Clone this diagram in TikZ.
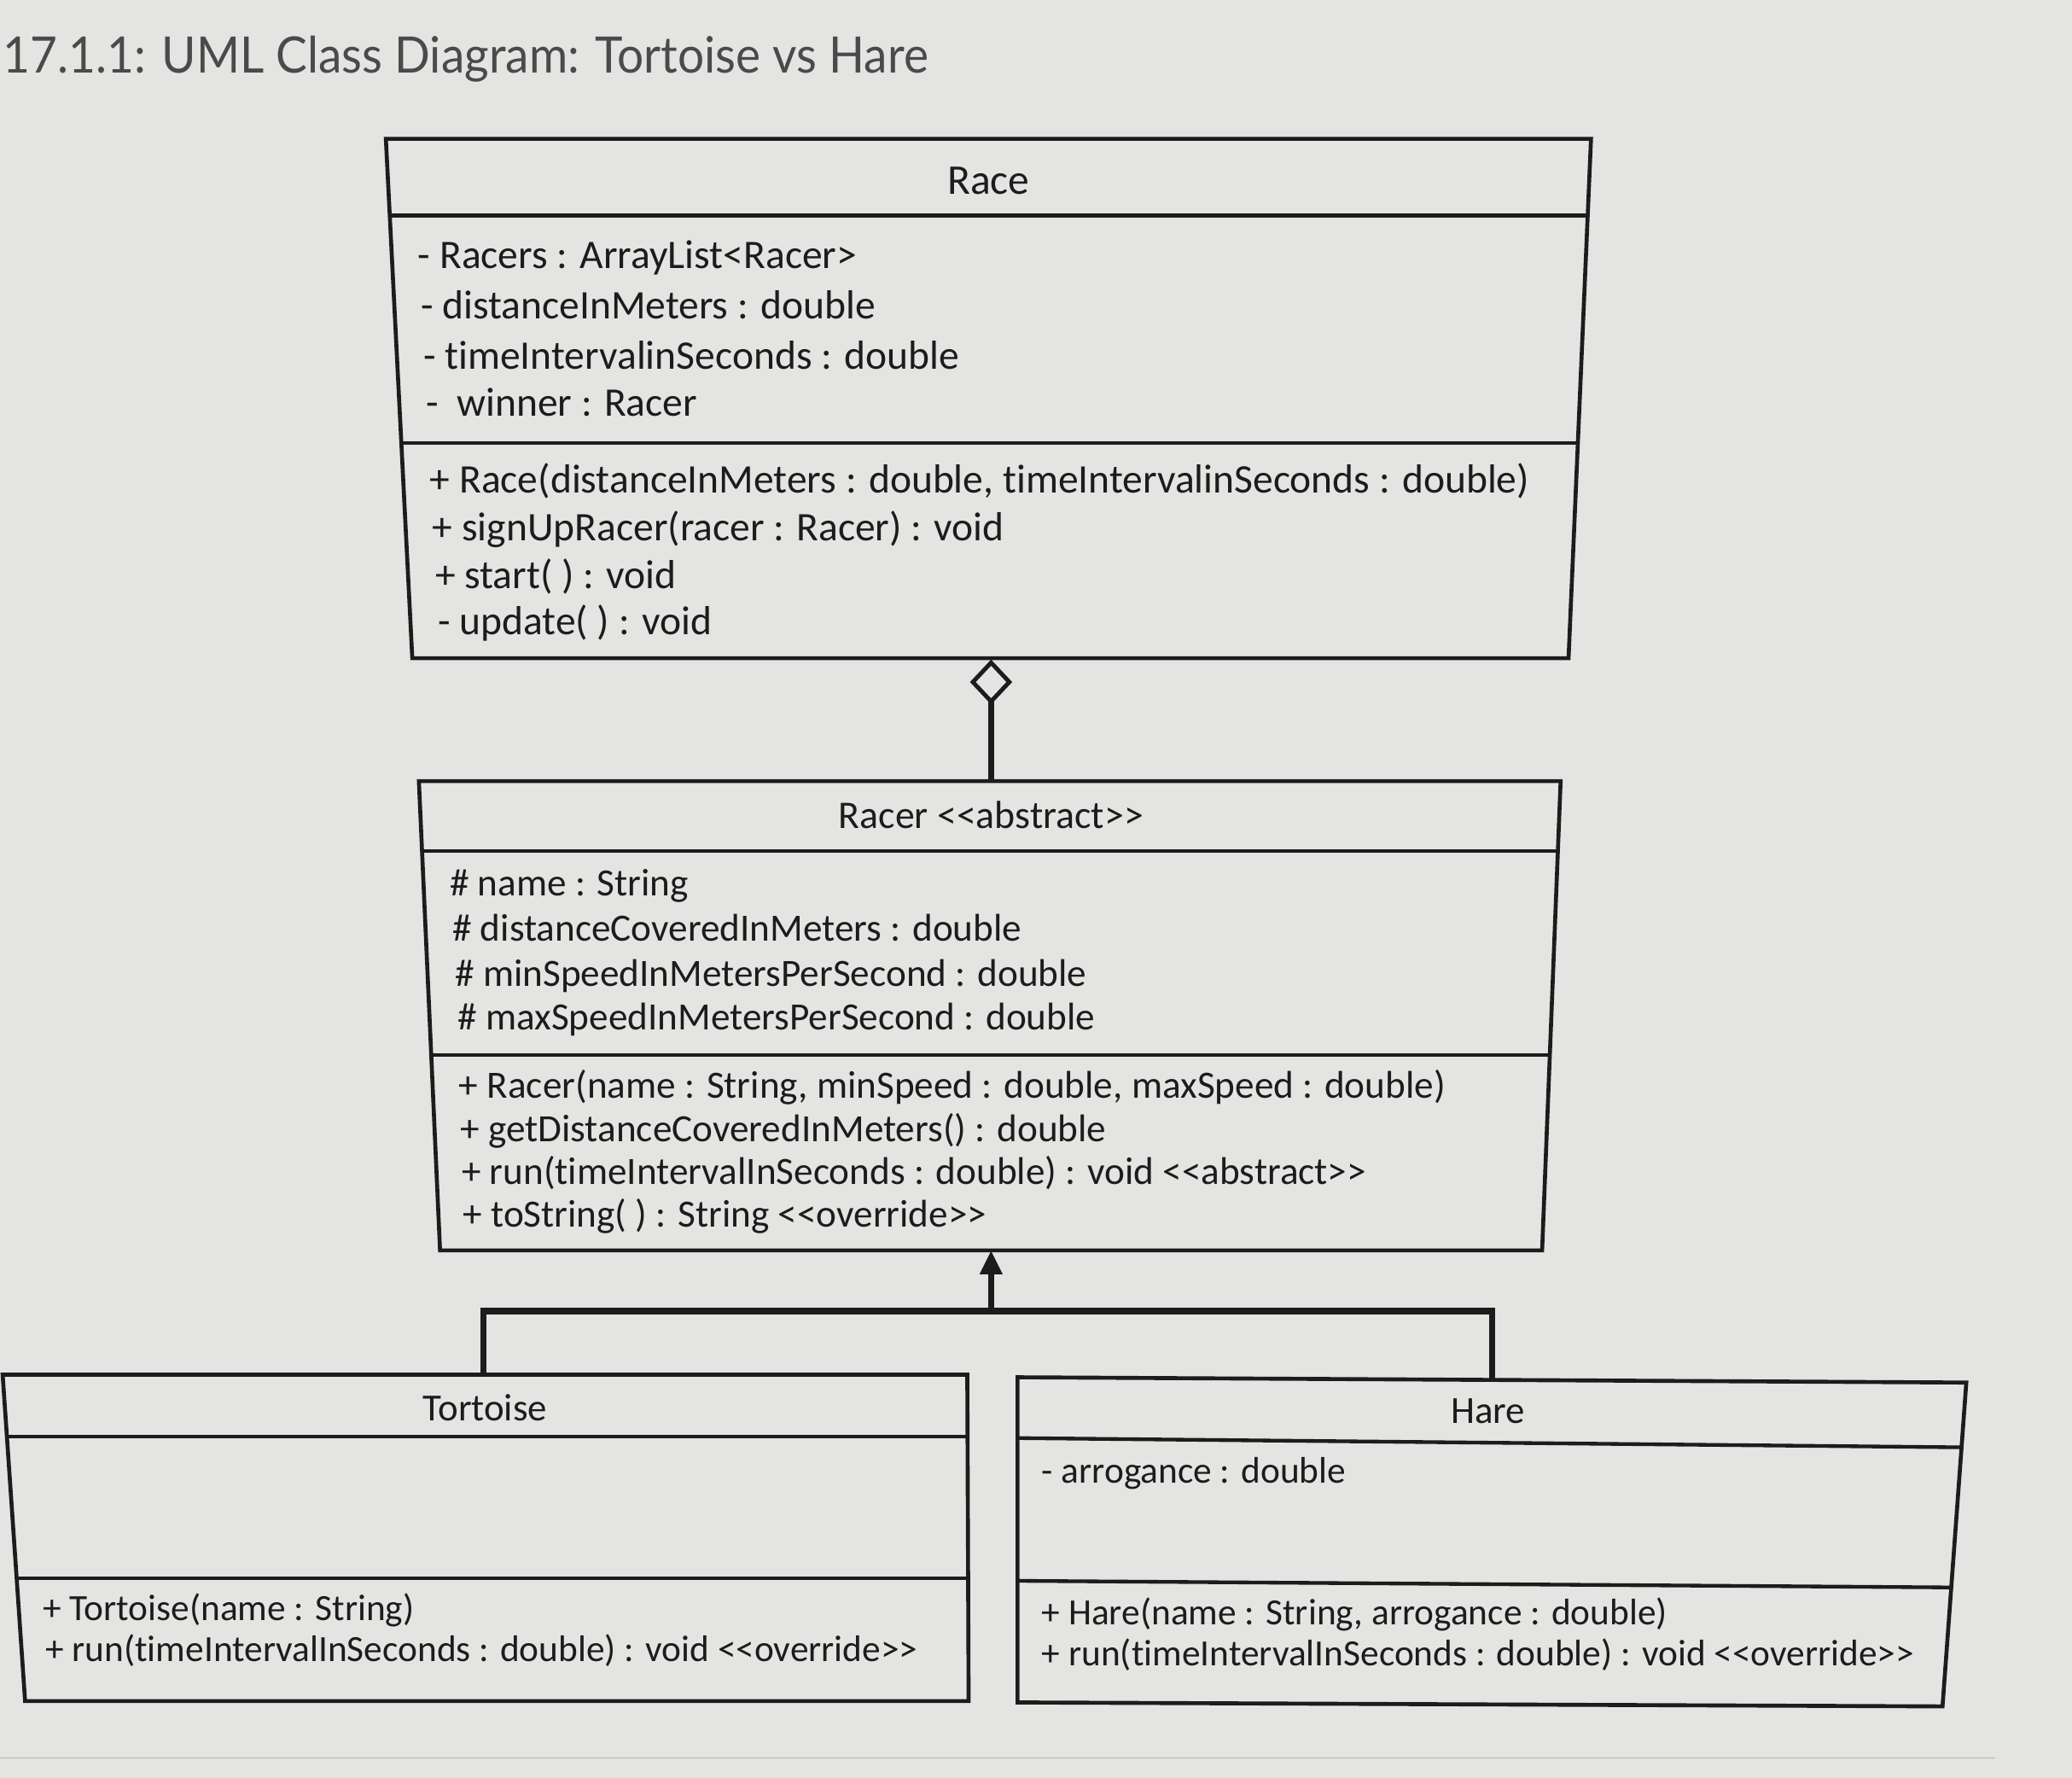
\documentclass[tikz,border=0pt]{standalone}
\usepackage{fontspec}
\setmainfont[Ligatures=CommonOff]{Carlito}
\newfontfamily\titlefont[FakeStretch=0.935]{Lato}
\usetikzlibrary{arrows.meta}
\definecolor{bg}{HTML}{E4E4E2}
\definecolor{ink}{HTML}{1C1C1C}
\definecolor{titlegray}{HTML}{4A4A4A}
\tikzset{
  box/.style={draw=ink, line width=1.5pt, line join=miter},
  sep/.style={draw=ink, line width=1.4pt},
  txt/.style={anchor=base west, inner sep=0pt, text=ink},
  ttl/.style={anchor=base, inner sep=0pt, text=ink},
  big/.style={font=\fontsize{15.35}{18}\selectfont},
  bigt/.style={font=\fontsize{16}{19}\selectfont},
  mid/.style={font=\fontsize{14.6}{17}\selectfont},
  midt/.style={font=\fontsize{14.8}{17}\selectfont},
  sml/.style={font=\fontsize{14}{16}\selectfont},
  smlt/.style={font=\fontsize{14.5}{17}\selectfont},
  conn/.style={draw=ink, line width=2.4pt},
}
\begin{document}
\begin{tikzpicture}[x=0.5pt,y=-0.5pt]
\fill[bg] (0,0) rectangle (1568,1345);
\useasboundingbox (0,0) rectangle (1568,1345);
\draw[gray!60, line width=0.6pt] (0,1330) -- (1510,1330);

% title
\node[anchor=base west, inner sep=0pt, text=titlegray, font=\titlefont\fontsize{19}{22}\selectfont] (title) at (2,55) {17.1.1: UML Class Diagram: Tortoise vs Hare};

% ---------- Race ----------
\coordinate (raceTL) at (292,105);
\coordinate (raceTR) at (1204,105);
\coordinate (raceBR) at (1187,498);
\coordinate (raceBL) at (312,498);
\draw[box] (raceTL) -- (raceTR) -- (raceBR) -- (raceBL) -- cycle;
\draw[sep] (295,163) -- (1201.5,163);
\draw[sep] (303.7,335) -- (1194,335);
\node[ttl,bigt] (raceName) at (748,147) {Race};
\node[txt,big] (ra1) at (316,203) {- Racers : ArrayList<Racer>};
\node[txt,big] (ra2) at (318,241) {- distanceInMeters : double};
\node[txt,big] (ra3) at (320,279) {- timeIntervalinSeconds : double};
\node[txt,big] (ra4) at (322,315) {-\ \ winner : Racer};
\node[txt,big] (rm1) at (325,373) {+ Race(distanceInMeters : double, timeIntervalinSeconds : double)};
\node[txt,big] (rm2) at (327,409) {+ signUpRacer(racer : Racer) : void};
\node[txt,big] (rm3) at (329,445) {+ start( ) : void};
\node[txt,big] (rm4) at (331,480) {- update( ) : void};
\coordinate (raceBot) at (750,499);

% ---------- Racer ----------
\coordinate (rcTL) at (317,591);
\coordinate (rcTR) at (1181,591);
\coordinate (rcBR) at (1167,946);
\coordinate (rcBL) at (333,946);
\draw[box] (rcTL) -- (rcTR) -- (rcBR) -- (rcBL) -- cycle;
\draw[sep] (319.4,644) -- (1178.9,644);
\draw[sep] (326.3,798) -- (1172.8,798);
\node[ttl,midt] (racerName) at (750,627) {Racer <{}<abstract>{}>};
\node[txt,mid] (ca1) at (340,678) {\# name : String};
\node[txt,mid] (ca2) at (342,712) {\# distanceCoveredInMeters : double};
\node[txt,mid] (ca3) at (344,746) {\# minSpeedInMetersPerSecond : double};
\node[txt,mid] (ca4) at (346,779) {\# maxSpeedInMetersPerSecond : double};
\node[txt,mid] (cm1) at (347,831) {+ Racer(name : String, minSpeed : double, maxSpeed : double)};
\node[txt,mid] (cm2) at (348,864) {+ getDistanceCoveredInMeters() : double};
\node[txt,mid] (cm3) at (349,896) {+ run(timeIntervalInSeconds : double) : void <{}<abstract>{}>};
\node[txt,mid] (cm4) at (350,928) {+ toString( ) : String <{}<override>{}>};
\coordinate (racerTop) at (750,592);
\coordinate (racerBot) at (750,946);

% ---------- Tortoise ----------
\coordinate (tTL) at (2,1040);
\coordinate (tTR) at (732,1040);
\coordinate (tBR) at (733,1287);
\coordinate (tBL) at (19,1287);
\draw[box] (tTL) -- (tTR) -- (tBR) -- (tBL) -- cycle;
\draw[sep] (5.2,1087) -- (732,1087);
\draw[sep] (12.6,1194) -- (732.5,1194);
\node[ttl,smlt] (tortName) at (367,1075) {Tortoise};
\node[txt,sml] (tm1) at (32,1226) {+ Tortoise(name : String)};
\node[txt,sml] (tm2) at (34,1257) {+ run(timeIntervalInSeconds : double) : void <{}<override>{}>};
\coordinate (tortTop) at (366,1040);

% ---------- Hare ----------
\coordinate (hTL) at (770,1042);
\coordinate (hTR) at (1488,1046);
\coordinate (hBR) at (1470,1291);
\coordinate (hBL) at (770,1288);
\draw[box] (hTL) -- (hTR) -- (hBR) -- (hBL) -- cycle;
\draw[sep] (770,1088) -- (1484.4,1095);
\draw[sep] (770,1196) -- (1476.6,1201);
\node[ttl,smlt] (hareName) at (1126,1077) {Hare};
\node[txt,sml] (ha1) at (788,1122) {- arrogance : double};
\node[txt,sml] (hm1) at (788,1229) {+ Hare(name : String, arrogance : double)};
\node[txt,sml] (hm2) at (788,1260) {+ run(timeIntervalInSeconds : double) : void <{}<override>{}>};
\coordinate (hareTop) at (1129,1044);

% ---------- connectors ----------
\draw[conn, -{Diamond[open, length=17pt, width=16pt, line width=1.6pt]}] (racerTop) -- (raceBot);
\coordinate (junc) at (750,992);
\draw[conn, line cap=butt] (tortTop) |- (junc) -| (hareTop);
\draw[conn, -{Triangle[length=9pt, width=8pt]}] (junc) -- (racerBot);
\end{tikzpicture}
\end{document}
